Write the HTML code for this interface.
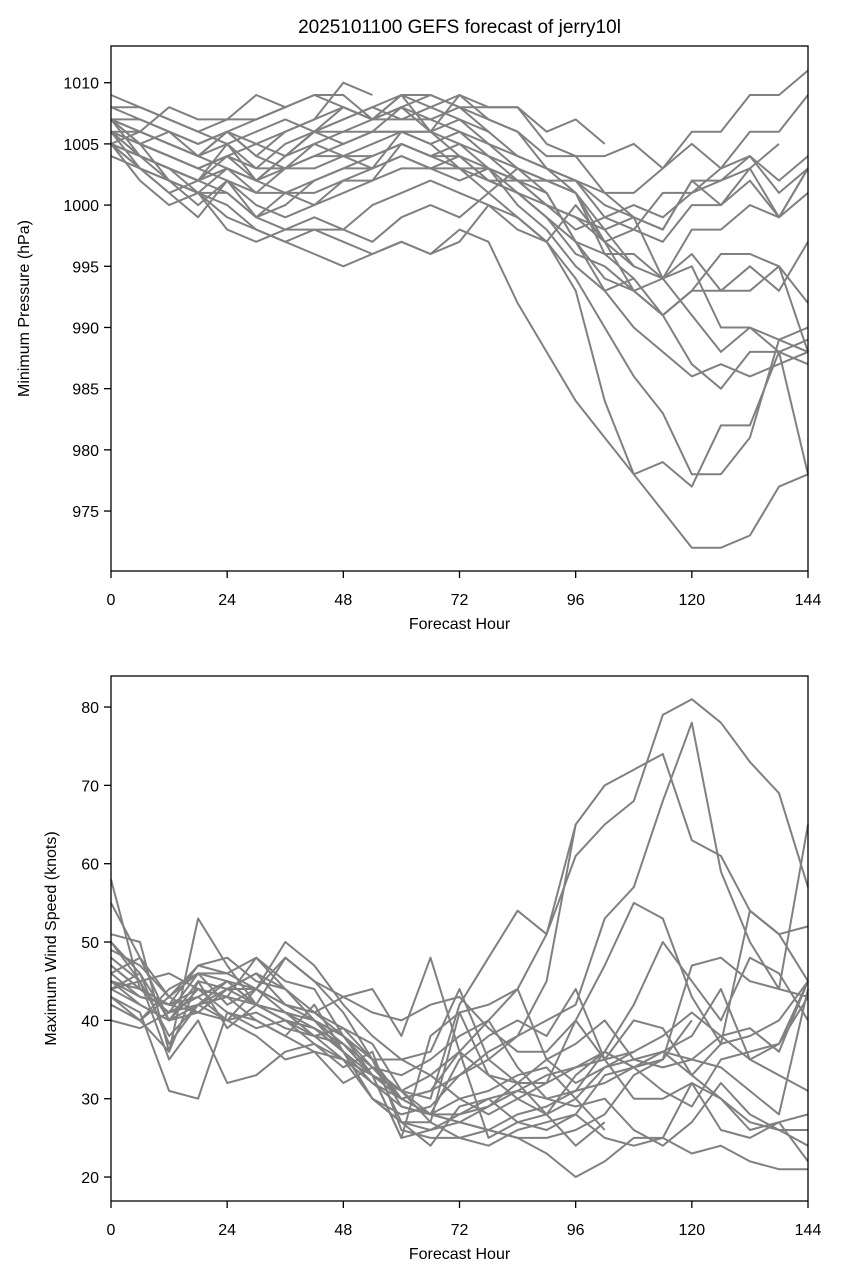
<!DOCTYPE html>
<html><head><meta charset="utf-8">
<style>
html,body{margin:0;padding:0;background:#fff;}
svg{display:block;font-family:"Liberation Sans","DejaVu Sans",sans-serif;}
</style></head>
<body>
<svg id="fig" width="843" height="1279" viewBox="0 0 843 1279" xmlns="http://www.w3.org/2000/svg">
<rect width="843" height="1279" fill="#fff"/>
<text x="459.5" y="33" text-anchor="middle" font-size="19" fill="#000">2025101100 GEFS forecast of jerry10l</text>
<g id="p1"></g>
<g id="p2"></g>
</svg>
<script>
const hours = [0,6,12,18,24,30,36,42,48,54,60,66,72,78,84,90,96,102,108,114,120,126,132,138,144];
const xTicks = [0,24,48,72,96,120,144];
const pTicks = [975,980,985,990,995,1000,1005,1010];
const wTicks = [20,30,40,50,60,70,80];
const N = null;
const pressureSeries = [
[1005,1003,1002,1001,999,998,997,996,995,996,997,996,998,997,992,988,984,981,978,975,972,972,973,977,978],
[1006,1004,1002,1001,1000,998,997,998,997,996,997,996,997,1000,999,997,993,984,978,979,977,982,982,988,978],
[1005,1004,1003,1002,1001,999,998,999,998,997,999,1000,999,1001,999,997,994,990,986,983,978,978,981,989,990],
[1007,1005,1004,1003,1002,1000,999,1000,1001,1002,1003,1003,1002,1003,1002,1001,997,993,990,988,986,987,986,987,988],
[1008,1007,1006,1004,1006,1004,1003,1005,1004,1003,1006,1006,1005,1004,1003,1001,997,994,993,991,987,985,988,988,987],
[1009,1008,1007,1006,1005,1006,1007,1006,1008,1007,1009,1008,1009,1008,1008,1006,1007,1005,N,N,N,N,N,N,N],
[1008,1008,1007,1006,1007,1009,1008,1009,1009,1007,1008,1007,1008,1008,1008,1005,1004,1004,1005,1003,1006,1006,1009,1009,1011],
[1007,1006,1008,1007,1007,1007,1008,1009,1008,1007,1009,1009,1008,1007,1006,1004,1004,1001,1001,1003,1005,1003,1006,1006,1009],
[1006,1005,1004,1003,1004,1003,1005,1006,1007,1008,1007,1008,1007,1006,1004,1003,1001,998,999,998,1002,1002,1004,1001,1003],
[1005,1004,1003,1001,1003,1002,1004,1005,1006,1006,1008,1006,1007,1005,1004,1003,1002,999,1000,999,1001,1003,1004,1002,1004],
[1004,1003,1002,1000,1002,1001,1003,1003,1004,1005,1006,1005,1006,1004,1002,1002,1001,997,998,997,1000,1000,1002,999,1003],
[1006,1004,1003,1002,1005,1002,1003,1004,1004,1004,1005,1004,1004,1003,1001,999,997,996,996,994,998,998,1000,999,1001],
[1005,1003,1001,1002,1003,1001,1001,1002,1003,1003,1004,1003,1003,1002,1002,1000,999,997,995,994,996,993,993,995,992],
[1007,1006,1005,1004,1003,1002,1001,1001,1002,1003,1004,1003,1004,1002,1001,999,996,995,993,991,993,996,996,995,988],
[1006,1003,1001,999,1002,999,1000,1002,1003,1004,1005,1004,1005,1003,1000,998,995,993,994,991,993,993,995,993,997],
[1005,1002,1000,1001,998,997,998,998,998,1000,1001,1002,1001,1000,998,997,1000,997,993,994,995,990,990,988,989],
[1007,1005,1002,1001,1001,999,1001,1000,1002,1002,1005,1004,1003,1001,1003,1002,1002,1001,999,994,991,988,990,989,988],
[1005,1004,1003,1002,1004,1002,1004,1006,1007,1008,1009,1006,1009,1007,1006,1003,1002,1000,999,998,1002,1000,1003,999,1003],
[1006,1005,1006,1005,1006,1005,1004,1006,1006,1007,1007,1007,1006,1005,1003,1002,1001,996,994,N,N,N,N,N,N],
[1007,1007,1006,1005,1006,1007,1008,N,N,N,N,N,N,N,N,N,N,N,N,N,N,N,N,N,N],
[1006,1005,1004,1003,1004,1005,1006,1007,1010,1009,N,N,N,N,N,N,N,N,N,N,N,N,N,N,N],
[1005,1006,1005,1004,1006,1004,1006,1007,1008,1007,1008,1009,1008,1006,N,N,N,N,N,N,N,N,N,N,N],
[1006,1006,1005,1004,1005,1003,1003,1004,1005,1006,1006,1005,1003,1003,1002,1000,999,998,995,N,N,N,N,N,N],
[1007,1004,1003,1002,1003,1002,1004,1006,1005,1006,1006,1006,1004,1002,1001,1000,998,999,998,1001,1001,1002,1003,1005,N]
];
const windSeries = [
[45,42,40,44,43,42,40,38,35,32,30,31,33,35,38,45,65,70,72,74,63,61,54,51,52],
[48,45,38,42,44,46,44,40,38,34,33,35,38,40,44,51,61,65,68,79,81,78,73,69,57],
[47,44,41,43,45,42,40,39,36,30,28,29,33,36,38,40,42,53,57,68,78,59,50,44,43],
[50,46,40,42,43,48,44,41,38,33,30,31,36,33,30,32,40,47,55,53,43,37,54,51,45],
[55,48,40,45,44,46,42,40,36,30,27,26,27,29,31,30,31,36,42,50,45,40,48,46,40],
[58,44,42,47,48,45,44,40,37,34,31,28,27,26,25,25,26,28,33,35,47,48,45,44,65],
[44,46,37,42,40,44,42,41,43,44,38,48,36,25,27,26,28,33,34,36,35,38,39,36,45],
[43,40,36,45,39,42,41,38,39,37,31,27,41,42,44,35,32,34,36,38,41,38,35,33,31],
[46,48,43,47,46,44,48,45,43,41,40,42,43,39,36,36,40,35,40,39,33,30,27,26,26],
[42,40,44,46,42,44,50,47,42,38,35,33,36,40,34,30,29,30,26,24,27,32,28,26,24],
[51,50,36,53,47,42,48,45,41,35,27,27,25,26,25,23,20,22,25,25,23,24,22,21,21],
[40,39,41,42,45,42,41,40,38,35,30,28,27,26,28,29,31,32,34,36,38,44,35,37,45],
[44,42,40,41,44,44,42,41,39,35,29,28,30,28,30,28,30,34,35,36,33,37,38,40,45],
[50,45,35,40,32,33,36,37,34,36,26,25,25,24,26,27,28,25,24,25,32,30,26,27,22],
[45,44,41,46,46,48,45,44,38,35,35,36,44,35,32,35,37,40,35,34,35,34,31,28,44],
[46,43,42,44,43,40,38,42,36,32,29,28,28,30,31,33,34,36,34,31,29,35,36,37,43],
[43,41,31,30,41,40,38,36,32,34,30,28,35,38,40,38,44,35,30,30,32,26,25,27,28],
[49,47,43,46,45,44,41,39,36,33,31,30,42,48,54,51,65,N,N,N,N,N,N,N,N],
[47,44,42,43,40,41,39,38,37,33,25,26,28,29,32,28,33,36,34,35,40,N,N,N,N],
[42,40,43,41,40,38,35,36,35,30,27,24,29,30,27,28,24,27,N,N,N,N,N,N,N],
[44,45,46,44,41,39,40,37,35,33,25,38,41,33,32,32,34,35,36,N,N,N,N,N,N],
[45,43,42,41,44,42,40,39,37,33,31,33,30,31,33,34,30,26,N,N,N,N,N,N,N]
];
const NS='http://www.w3.org/2000/svg';
function el(tag,attrs,parent){const e=document.createElementNS(NS,tag);for(const k in attrs)e.setAttribute(k,attrs[k]);parent.appendChild(e);return e;}
function panel(g,top,bottom,yMin,yMax,yTicks,series,ylabel,kind){
  const L=111,R=808;
  const x=h=>L+(h/144)*(R-L);
  const y=v=>bottom-(v-yMin)/(yMax-yMin)*(bottom-top);
  series.forEach((s,i)=>{
    let d='';let pen=false;
    s.forEach((v,j)=>{if(v===null){pen=false;return;}d+=(pen?'L':'M')+x(hours[j]).toFixed(1)+','+y(v).toFixed(1);pen=true;});
    const p=el('path',{d:d,fill:'none',stroke:'#808080','stroke-width':2,'stroke-linejoin':'round'},g);
    
    
  });
  const fr=el('rect',{x:L,y:top,width:R-L,height:bottom-top,fill:'none',stroke:'#000','stroke-width':1.3},g);
  
  
  xTicks.forEach(t=>{
    el('line',{x1:x(t),x2:x(t),y1:bottom,y2:bottom+7,stroke:'#000','stroke-width':1.3},g);
    const tx=el('text',{x:x(t),y:bottom+34,'text-anchor':'middle','font-size':16},g);
    tx.textContent=t;
    
    
  });
  yTicks.forEach(t=>{
    el('line',{x1:L-7,x2:L,y1:y(t),y2:y(t),stroke:'#000','stroke-width':1.3},g);
    const tx=el('text',{x:L-12,y:y(t)+6,'text-anchor':'end','font-size':16},g);
    tx.textContent=t;
    
    
  });
  const xl=el('text',{x:(L+R)/2,y:bottom+58,'text-anchor':'middle','font-size':16},g);
  xl.textContent='Forecast Hour';
  
  
  const cy=(top+bottom)/2;
  const yl=el('text',{x:0,y:0,'text-anchor':'middle','font-size':16,transform:'translate('+(kind==='pressure'?29:56)+','+cy+') rotate(-90)'},g);
  yl.textContent=ylabel;
  
  
}
panel(document.getElementById('p1'),46,571,970.1,1013.0,pTicks,pressureSeries,'Minimum Pressure (hPa)','pressure');
panel(document.getElementById('p2'),676,1201,16.94,83.96,wTicks,windSeries,'Maximum Wind Speed (knots)','wind');
</script>
</body></html>
